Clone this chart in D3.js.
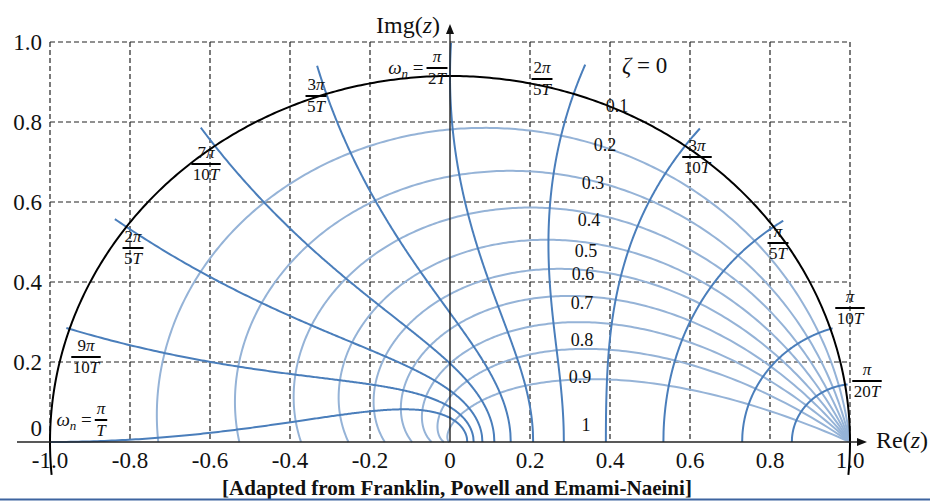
<!DOCTYPE html>
<html>
<head>
<meta charset="utf-8">
<script src="https://cdnjs.cloudflare.com/ajax/libs/d3/7.8.5/d3.min.js"></script>
<style>
body { margin: 0; background: #fff; }
text { font-family: "Liberation Serif", "Times New Roman", serif; fill: #111; }
</style>
</head>
<body>
<div id="svgContainer"></div>
<script>
var width = 930;
var height = 501;

// tick values and labels
var xTicks = [-1.0, -0.8, -0.6, -0.4, -0.2, 0, 0.2, 0.4, 0.6, 0.8, 1.0];
var xTickLabels = ["-1.0", "-0.8", "-0.6", "-0.4", "-0.2", "0", "0.2", "0.4", "0.6", "0.8", "1.0"];
var yTicks = [0, 0.2, 0.4, 0.6, 0.8, 1.0];
var yTickLabels = ["0", "0.2", "0.4", "0.6", "0.8", "1.0"];

// constant damping ratio loci
var zetaValues = [0.1, 0.2, 0.3, 0.4, 0.5, 0.6, 0.7, 0.8, 0.9];
var zetaLabels = ["0.1", "0.2", "0.3", "0.4", "0.5", "0.6", "0.7", "0.8", "0.9", "1"];

// constant natural frequency loci, wn*T as a multiple of pi
var wnMultiples = [0.05, 0.1, 0.2, 0.3, 0.4, 0.5, 0.6, 0.7, 0.8, 0.9, 1.0];
// how far each curve runs past the unit circle (start damping ratio)
var wnZetaStart = [-0.04, -0.018, -0.046, -0.062, -0.065, -0.055, -0.041, -0.027, -0.014, -0.003, 0];
var wnNumerators = ["π", "π", "π", "3π", "2π", "π", "3π", "7π", "2π", "9π", "π"];
var wnDenominators = ["20T", "10T", "5T", "10T", "5T", "2T", "5T", "10T", "5T", "10T", "T"];
var wnPrefixed = [false, false, false, false, false, true, false, false, false, false, true];

// label anchors in plot units
var zetaLabelAt = [[0.4175, 0.84], [0.3875, 0.7425], [0.3575, 0.6475], [0.3475, 0.555], [0.34, 0.4775],
  [0.3325, 0.42], [0.33, 0.3475], [0.33, 0.255], [0.325, 0.1625], [0.34, 0.0425]];
var wnLabelAt = [[1.0425, 0.1525], [1.0, 0.335], [0.82, 0.4975], [0.6175, 0.7125], [0.23, 0.9075],
  [-0.0325, 0.935], [-0.335, 0.865], [-0.61, 0.695], [-0.7925, 0.485], [-0.91, 0.2125], [-0.8725, 0.055]];

var x = d3.scaleLinear().domain([-1, 1]).range([50, 850]);
var yGrid = d3.scaleLinear().domain([0, 1]).range([442, 42]);
// the curves in the figure are drawn slightly squashed against the grid
var yCurve = d3.scaleLinear().domain([0, 1]).range([442, 76]);

var svg = d3.select("#svgContainer").append("svg")
  .attr("width", width)
  .attr("height", height);

svg.append("rect")
  .attr("width", width)
  .attr("height", height)
  .attr("fill", "white");

// dashed grid
var grid = svg.append("g")
  .attr("stroke", "#222")
  .attr("stroke-width", 1.2)
  .attr("stroke-dasharray", "5,3");

grid.selectAll(".vg")
  .data(xTicks.filter(function(d) { return d !== 0; }))
  .enter().append("line")
  .attr("x1", function(d) { return x(d); })
  .attr("x2", function(d) { return x(d); })
  .attr("y1", yGrid(1))
  .attr("y2", yGrid(0));

grid.selectAll(".hg")
  .data(yTicks.filter(function(d) { return d > 0; }))
  .enter().append("line")
  .attr("x1", x(-1))
  .attr("x2", x(1))
  .attr("y1", function(d) { return yGrid(d); })
  .attr("y2", function(d) { return yGrid(d); });

var line = d3.line()
  .x(function(d) { return x(d[0]); })
  .y(function(d) { return yCurve(d[1]); });

// zeta curves: z = exp(-zeta*wT) * exp(j*wT*sqrt(1-zeta^2)) until the angle reaches pi
zetaValues.forEach(function(zeta) {
  var wMax = Math.PI / Math.sqrt(1 - zeta * zeta);
  var pts = d3.range(0, 301).map(function(i) {
    var w = wMax * i / 300;
    var r = Math.exp(-zeta * w);
    var th = w * Math.sqrt(1 - zeta * zeta);
    return [r * Math.cos(th), r * Math.sin(th)];
  });
  svg.append("path")
    .attr("d", line(pts))
    .attr("fill", "none")
    .attr("stroke", "#95b3d7")
    .attr("stroke-width", 2);
});

// wn curves: zeta running to 1
wnMultiples.forEach(function(m, k) {
  var w = m * Math.PI;
  var z0 = wnZetaStart[k];
  var pts = d3.range(0, 301).map(function(i) {
    var zeta = z0 + (1 - z0) * i / 300;
    var r = Math.exp(-zeta * w);
    var th = w * Math.sqrt(1 - zeta * zeta);
    return [r * Math.cos(th), r * Math.sin(th)];
  });
  svg.append("path")
    .attr("d", line(pts))
    .attr("fill", "none")
    .attr("stroke", "#4a7ebb")
    .attr("stroke-width", 2);
});

// unit circle (zeta = 0)
var circlePts = d3.range(0, 401).map(function(i) {
  var a = -0.09 + (Math.PI + 0.18) * i / 400;
  return [Math.cos(a), Math.sin(a)];
});
svg.append("path")
  .attr("d", line(circlePts))
  .attr("fill", "none")
  .attr("stroke", "black")
  .attr("stroke-width", 2);

// axes with arrows
svg.append("line")
  .attr("x1", 17).attr("x2", 860)
  .attr("y1", yGrid(0)).attr("y2", yGrid(0))
  .attr("stroke", "#222").attr("stroke-width", 1.4);
svg.append("path")
  .attr("d", "M867," + yGrid(0) + " L857," + (yGrid(0) - 4) + " L857," + (yGrid(0) + 4) + "Z")
  .attr("fill", "#111");
svg.append("line")
  .attr("x1", x(0)).attr("x2", x(0))
  .attr("y1", yGrid(0)).attr("y2", 32)
  .attr("stroke", "#222").attr("stroke-width", 1.4);
svg.append("path")
  .attr("d", "M" + x(0) + ",24 L" + (x(0) - 4) + ",34 L" + (x(0) + 4) + ",34Z")
  .attr("fill", "#111");

// tick labels
svg.selectAll(".xl")
  .data(xTicks)
  .enter().append("text")
  .attr("x", function(d) { return x(d); })
  .attr("y", 468)
  .attr("text-anchor", "middle")
  .attr("font-size", 23)
  .text(function(d, i) { return xTickLabels[i]; });

svg.selectAll(".yl")
  .data(yTicks)
  .enter().append("text")
  .attr("x", 42)
  .attr("y", function(d) { return d === 0 ? yGrid(d) - 6 : yGrid(d) + 8; })
  .attr("text-anchor", "end")
  .attr("font-size", 23)
  .text(function(d, i) { return yTickLabels[i]; });

// axis titles
var imgT = svg.append("text").attr("x", 376).attr("y", 33).attr("font-size", 24);
imgT.append("tspan").text("Img(");
imgT.append("tspan").attr("font-style", "italic").text("z");
imgT.append("tspan").text(")");

var reT = svg.append("text").attr("x", 876).attr("y", 448).attr("font-size", 24);
reT.append("tspan").text("Re(");
reT.append("tspan").attr("font-style", "italic").text("z");
reT.append("tspan").text(")");

// zeta labels
var z0T = svg.append("text").attr("x", 622).attr("y", 73).attr("font-size", 23);
z0T.append("tspan").attr("font-style", "italic").text("ζ");
z0T.append("tspan").text(" = 0");

svg.selectAll(".zl")
  .data(zetaLabels)
  .enter().append("text")
  .attr("x", function(d, i) { return x(zetaLabelAt[i][0]); })
  .attr("y", function(d, i) { return yGrid(zetaLabelAt[i][1]) + 6; })
  .attr("text-anchor", "middle")
  .attr("font-size", 18)
  .text(function(d) { return d; });

// fraction labels for wn
function mathText(g, str, px, py, size) {
  var t = g.append("text").attr("x", px).attr("y", py)
    .attr("text-anchor", "middle").attr("font-size", size);
  str.split("").forEach(function(c) {
    var it = (c === "π" || c === "T");
    t.append("tspan").attr("font-style", it ? "italic" : "normal").text(c);
  });
  return t;
}

wnMultiples.forEach(function(m, k) {
  var cx = x(wnLabelAt[k][0]);
  var by = yGrid(wnLabelAt[k][1]);
  var g = svg.append("g");
  var nt = mathText(g, wnNumerators[k], cx, by - 6, 17);
  var dt = mathText(g, wnDenominators[k], cx, by + 16, 17);
  var w = Math.max(nt.node().getComputedTextLength(), dt.node().getComputedTextLength()) + 3;
  g.append("line")
    .attr("x1", cx - w / 2).attr("x2", cx + w / 2)
    .attr("y1", by).attr("y2", by)
    .attr("stroke", "black").attr("stroke-width", 2);
  if (wnPrefixed[k]) {
    var p = g.append("text").attr("x", cx - w / 2 - 3).attr("y", by + 6)
      .attr("text-anchor", "end").attr("font-size", 19);
    p.append("tspan").attr("font-style", "italic").text("ω");
    p.append("tspan").attr("font-style", "italic").attr("font-size", 13).attr("dy", 4).text("n");
    p.append("tspan").attr("dy", -4).text(" =");
  }
});

// source note and bottom rule
svg.append("text")
  .attr("x", 457)
  .attr("y", 495)
  .attr("text-anchor", "middle")
  .attr("font-size", 21)
  .attr("font-weight", "bold")
  .text("[Adapted from Franklin, Powell and Emami-Naeini]");

svg.append("line")
  .attr("x1", 0).attr("x2", width)
  .attr("y1", 499.5).attr("y2", 499.5)
  .attr("stroke", "#3d64a0")
  .attr("stroke-width", 2);
</script>
</body>
</html>
